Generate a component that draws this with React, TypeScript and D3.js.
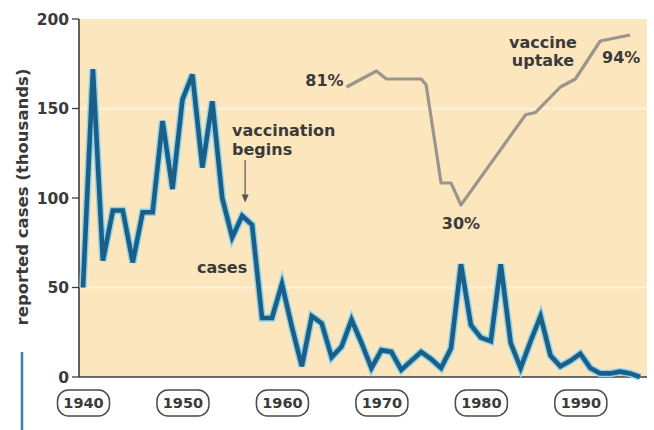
import React from "react";
import * as d3 from "d3";

// ---- data ----
const caseYears: number[] = [
  1940, 1941, 1942, 1943, 1944, 1945, 1946, 1947, 1948, 1949,
  1950, 1951, 1952, 1953, 1954, 1955, 1956, 1957, 1958, 1959,
  1960, 1961, 1962, 1963, 1964, 1965, 1966, 1967, 1968, 1969,
  1970, 1971, 1972, 1973, 1974, 1975, 1976, 1977, 1978, 1979,
  1980, 1981, 1982, 1983, 1984, 1985, 1986, 1987, 1988, 1989,
  1990, 1991, 1992, 1993, 1994, 1995, 1996,
];
const caseValues: number[] = [
  50, 172, 65, 93, 93, 64, 92, 92, 143, 105,
  155, 169, 117, 154, 100, 78, 90, 85, 33, 33,
  52, 28, 6, 34, 30, 11, 17, 32, 19, 5,
  15, 14, 4, 9, 14, 10, 5, 16, 63, 29,
  22, 20, 63, 19, 5, 20, 34, 12, 6, 9,
  13, 5, 2, 2, 3, 2, 0,
];
const uptakeYears: number[] = [
  1966.5, 1969.5, 1970.5, 1974, 1974.5, 1976, 1977, 1978,
  1984.5, 1985.5, 1988, 1989.5, 1992, 1995,
];
const uptakePercent: number[] = [
  81, 85, 83, 83, 81.5, 39.5, 39.5, 30, 69, 70, 81, 83, 92.5, 94,
];
const yTicks: number[] = [0, 50, 100, 150, 200];
const decadeLabels: string[] = ["1940", "1950", "1960", "1970", "1980", "1990"];
const gridValues: number[] = [50, 150];

const W = 654;
const H = 430;
const FONT = "'DejaVu Sans', Verdana, sans-serif";
const TEXT = "#3a3a3a";

export default function App() {
  const x = d3.scaleLinear().domain([1940, 1996]).range([83, 640]);
  const y = d3.scaleLinear().domain([0, 200]).range([377, 19]);
  // uptake line drawn on an illustrative (non-uniform) percentage scale
  const yU = d3.scaleLinear().domain([30, 81, 94]).range([205, 87, 35]);

  const caseLine = d3
    .line<number>()
    .x((_, i) => x(caseYears[i]))
    .y((d) => y(d));
  const uptakeLine = d3
    .line<number>()
    .x((_, i) => x(uptakeYears[i]))
    .y((d) => yU(d));

  const casesPath = caseLine(caseValues) || "";
  const uptakePath = uptakeLine(uptakePercent) || "";

  const plotLeft = 79;
  const plotRight = 647;
  const plotTop = y(200);
  const plotBottom = y(0);

  const arrowX = x(1956.3);
  const arrowTipY = y(93) - 8;

  return (
    <svg
      width={W}
      height={H}
      style={{ position: "absolute", left: 0, top: 0, background: "#ffffff" }}
      fontFamily={FONT}
    >
      {/* plot background */}
      <rect
        x={plotLeft}
        y={plotTop}
        width={plotRight - plotLeft}
        height={plotBottom - plotTop}
        fill="#fce6bd"
      />
      {gridValues.map((g) => (
        <line
          key={"g" + g}
          x1={plotLeft}
          x2={plotRight}
          y1={y(g)}
          y2={y(g)}
          stroke="#fff6e6"
          strokeWidth={2}
          opacity={0.8}
        />
      ))}

      {/* axes */}
      <line x1={plotLeft} x2={plotLeft} y1={plotTop} y2={plotBottom} stroke="#3c3c3c" strokeWidth={1.6} />
      <line x1={plotLeft} x2={plotRight} y1={plotBottom} y2={plotBottom} stroke="#3c3c3c" strokeWidth={1.6} />
      {yTicks.map((t) => (
        <g key={"t" + t}>
          <line x1={plotLeft - 7} x2={plotLeft} y1={y(t)} y2={y(t)} stroke="#3c3c3c" strokeWidth={1.3} />
          <text
            x={plotLeft - 10}
            y={y(t)}
            dy="0.36em"
            textAnchor="end"
            fontSize={15.5}
            fontWeight="bold"
            fill={TEXT}
          >
            {t}
          </text>
        </g>
      ))}

      {/* y axis title */}
      <text
        transform={`translate(28, ${(y(0) + y(200)) / 2 - 1}) rotate(-90)`}
        textAnchor="middle"
        fontSize={16.5}
        fontWeight="bold"
        fill={TEXT}
      >
        reported cases (thousands)
      </text>
      <line x1={22} x2={22} y1={352} y2={H} stroke="#3f7ea9" strokeWidth={2.5} />

      {/* decade labels */}
      {decadeLabels.map((lab) => {
        const cx = x(+lab) + 0.5;
        return (
          <g key={lab}>
            <rect
              x={cx - 26}
              y={390}
              width={52}
              height={26}
              rx={11}
              fill="#fdfdfb"
              stroke="#4a4a4a"
              strokeWidth={1.5}
            />
            <text
              x={cx}
              y={403}
              dy="0.36em"
              textAnchor="middle"
              fontSize={14.5}
              fontWeight="bold"
              fill={TEXT}
            >
              {lab}
            </text>
          </g>
        );
      })}

      {/* vaccine uptake line */}
      <path d={uptakePath} fill="none" stroke="#9c958d" strokeWidth={3.2} strokeLinejoin="round" />

      {/* cases line */}
      <path d={casesPath} fill="none" stroke="#8fd3ee" strokeWidth={7.5} strokeLinejoin="miter" />
      <path d={casesPath} fill="none" stroke="#1b5f87" strokeWidth={4.6} strokeLinejoin="miter" />

      {/* annotations */}
      <text x={232} y={136} fontSize={16} fontWeight="bold" fill={TEXT}>vaccination</text>
      <text x={232} y={155} fontSize={16} fontWeight="bold" fill={TEXT}>begins</text>
      <line x1={arrowX} x2={arrowX} y1={160} y2={arrowTipY - 6} stroke="#555" strokeWidth={1.2} />
      <path
        d={`M${arrowX - 3.5},${arrowTipY - 8} L${arrowX + 3.5},${arrowTipY - 8} L${arrowX},${arrowTipY} Z`}
        fill="#555"
      />
      <text x={197} y={273} fontSize={16} fontWeight="bold" fill={TEXT}>cases</text>
      <text x={x(uptakeYears[0]) - 3} y={86} textAnchor="end" fontSize={16} fontWeight="bold" fill={TEXT}>81%</text>
      <text x={x(1978)} y={229} textAnchor="middle" fontSize={16} fontWeight="bold" fill={TEXT}>30%</text>
      <text x={543} y={48} textAnchor="middle" fontSize={16} fontWeight="bold" fill={TEXT}>vaccine</text>
      <text x={543} y={66} textAnchor="middle" fontSize={16} fontWeight="bold" fill={TEXT}>uptake</text>
      <text x={602} y={63} fontSize={16} fontWeight="bold" fill={TEXT}>94%</text>
    </svg>
  );
}
